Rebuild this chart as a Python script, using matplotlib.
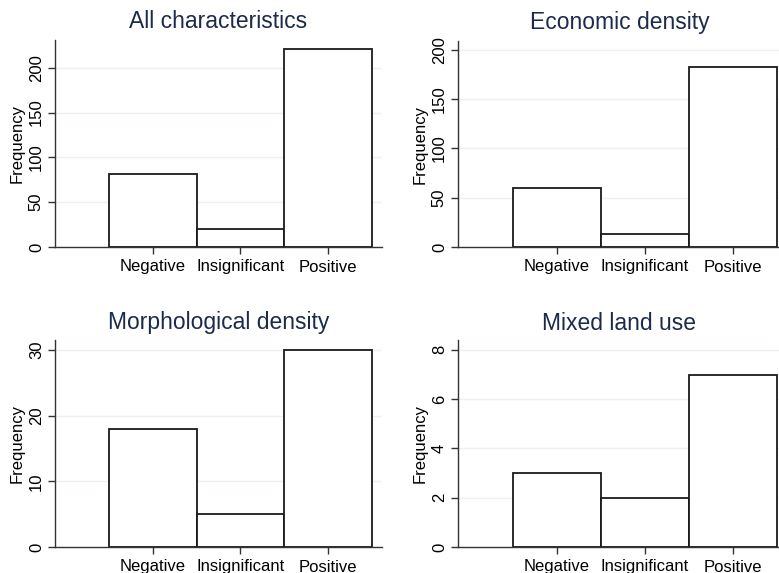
import numpy as np
import matplotlib.pyplot as plt

plt.rcParams['font.family'] = ['Liberation Sans', 'DejaVu Sans']

categories = ['Negative', 'Insignificant', 'Positive']
titles = ['All characteristics', 'Economic density', 'Morphological density', 'Mixed land use']
all_chars = [81, 20, 221]
economic = [60, 13, 183]
morphological = [18, 5, 30]
mixed = [3, 2, 7]
series = [all_chars, economic, morphological, mixed]
yticks = [[0, 50, 100, 150, 200], [0, 50, 100, 150, 200], [0, 10, 20, 30], [0, 2, 4, 6, 8]]
ytops = [231, 209, 31.5, 8.4]

W, H = 779, 573
fig = plt.figure(figsize=(W / 100, H / 100), dpi=100)
fig.patch.set_facecolor('white')

# panel boxes in pixels: left, right, top, bottom
boxes = [(55, 382, 40, 247), (458, 781, 41, 247), (55, 382, 340, 547), (458, 781, 340, 547)]
xlims = [(-0.12, 3.62), (-0.125, 3.545), (-0.12, 3.62), (-0.125, 3.545)]
title_y = [22, 22, 323, 323]

x = np.arange(1, 4)
for i, (l, r, t, b) in enumerate(boxes):
    ax = fig.add_axes([l / W, 1 - b / H, (r - l) / W, (b - t) / H])
    ax.set_axisbelow(True)
    for yt in yticks[i][1:]:
        ax.axhline(yt, color='#eaf2f3', lw=1.0, zorder=0)
    ax.bar(x, series[i], width=1.0, color='white', edgecolor='#1a1a1a', linewidth=1.3, zorder=2)
    ax.set_xlim(*xlims[i])
    ax.set_ylim(0, ytops[i])
    ax.set_xticks(x)
    ax.set_xticklabels(categories, fontsize=12)
    ax.set_yticks(yticks[i])
    ax.set_yticklabels([str(v) for v in yticks[i]], fontsize=12, rotation=90, va='center')
    ax.tick_params(axis='both', length=5, width=1, color='#333333', pad=4)
    ax.tick_params(axis='y', pad=3)
    for s in ['top', 'right']:
        ax.spines[s].set_visible(False)
    for s in ['left', 'bottom']:
        ax.spines[s].set_color('#333333')
        ax.spines[s].set_linewidth(1.0)
    ax.set_ylabel('Frequency', fontsize=12, labelpad=3)
    fig.text((l + r) / 2 / W, 1 - title_y[i] / H, titles[i], fontsize=16.5,
             color='#1c2b4b', ha='center', va='center')

fig.savefig('out.png', dpi=100, facecolor='white')
